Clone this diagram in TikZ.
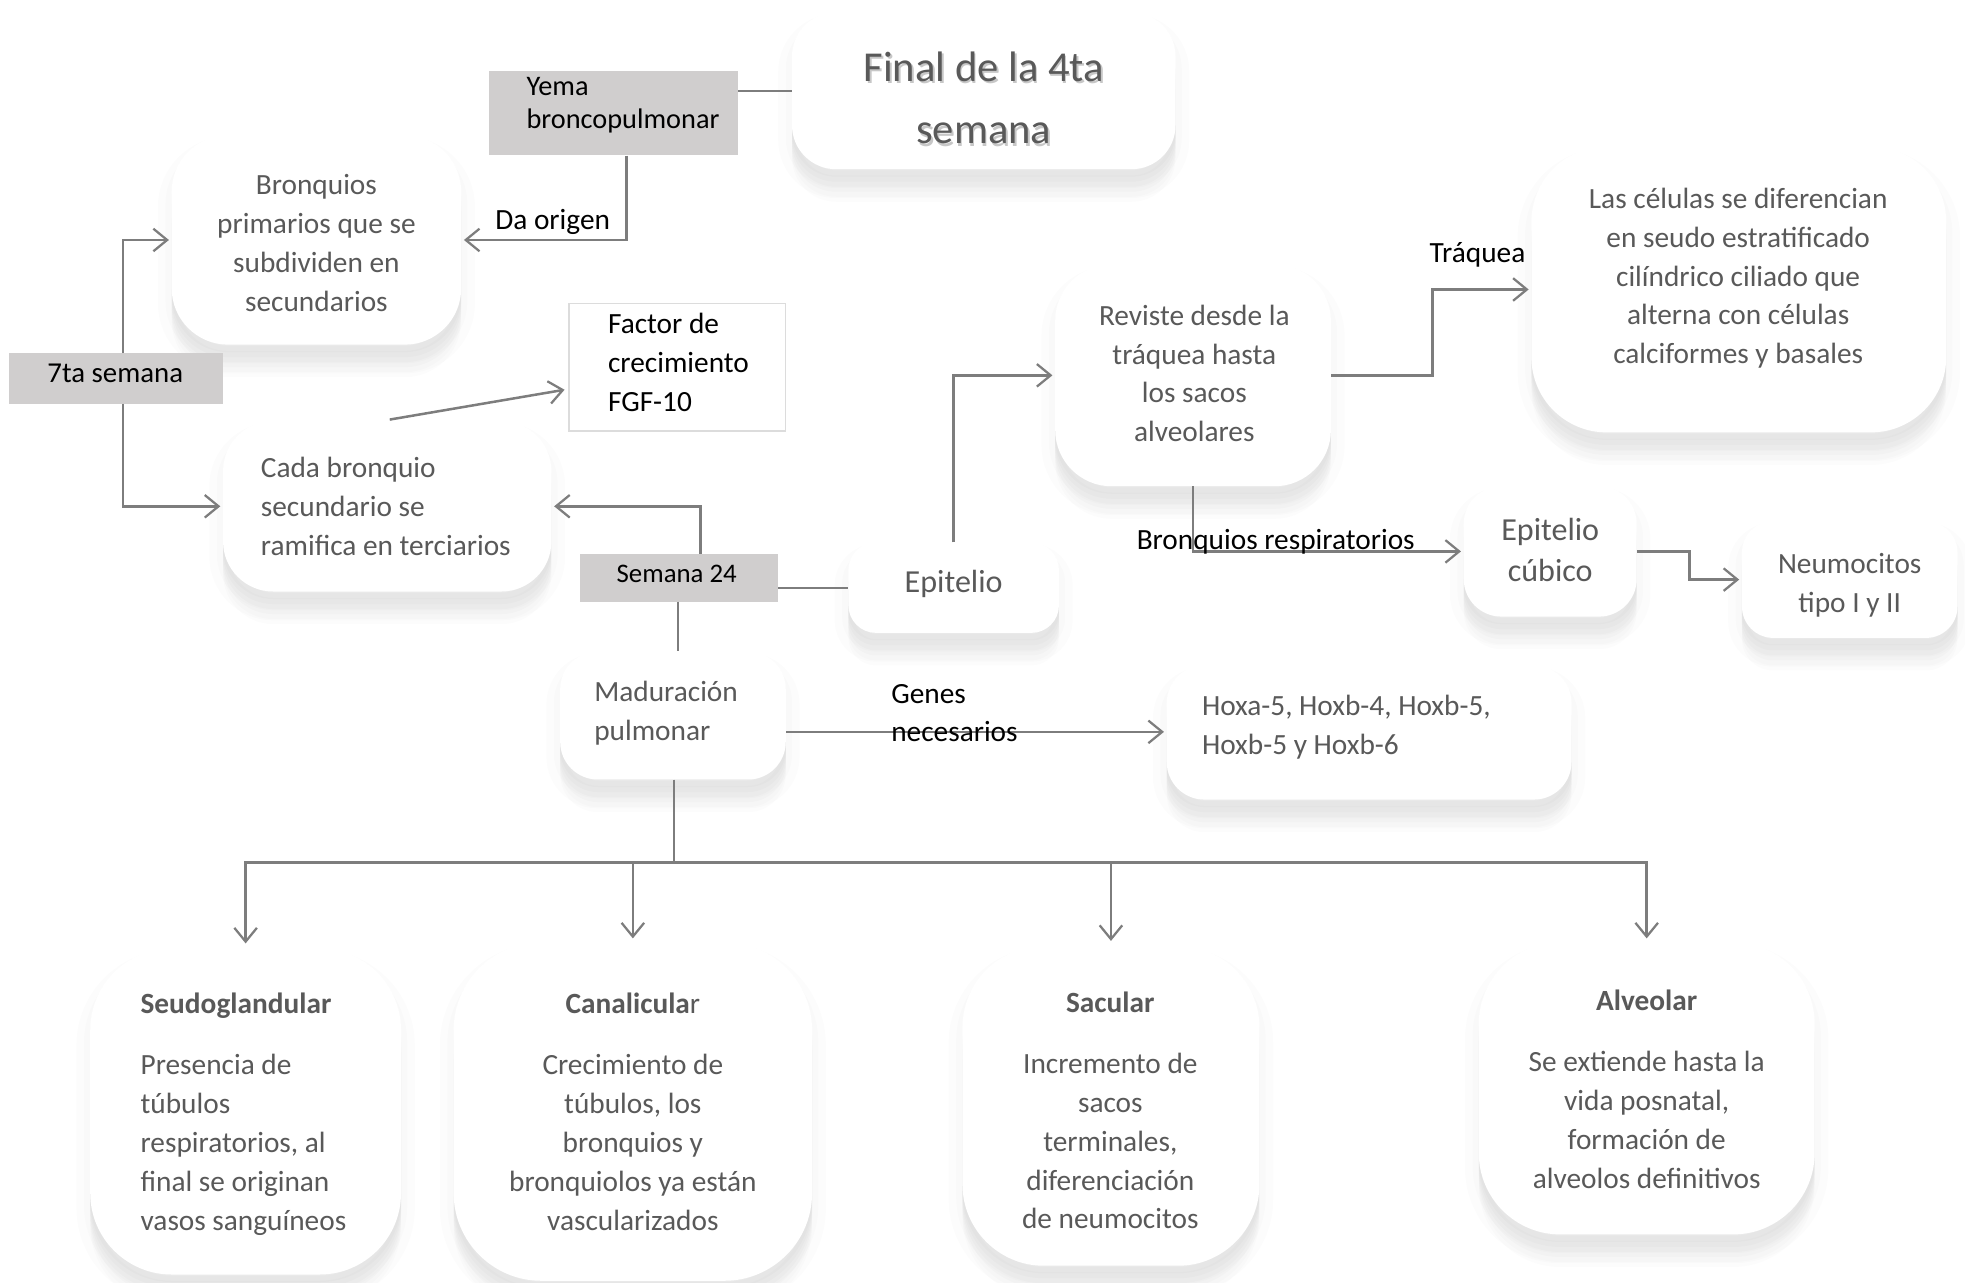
\documentclass[tikz,border=0pt]{standalone}
\usepackage{fontspec}
\setmainfont{Carlito}
\usetikzlibrary{arrows.meta,shadows,calc}

\definecolor{txtgray}{RGB}{89,89,89}
\definecolor{boxgray}{RGB}{208,206,206}
\definecolor{linegray}{RGB}{125,125,125}
\definecolor{framegray}{RGB}{220,220,220}

\begin{document}
\begin{tikzpicture}[x=1pt,y=1pt,
  % soft shadow: stacked translucent copies, fading downwards
  softshadow/.style={
    general shadow={draw=black, draw opacity=0.010, line width=22pt, shadow yshift=-12pt},
    general shadow={draw=black, draw opacity=0.012, line width=10pt, shadow yshift=-10pt},
    general shadow={fill=black, fill opacity=0.012, shadow yshift=-26pt},
    general shadow={fill=black, fill opacity=0.012, shadow yshift=-22pt},
    general shadow={fill=black, fill opacity=0.014, shadow yshift=-18pt},
    general shadow={fill=black, fill opacity=0.014, shadow yshift=-14pt},
    general shadow={fill=black, fill opacity=0.016, shadow yshift=-10pt},
    general shadow={fill=black, fill opacity=0.016, shadow yshift=-6pt}},
  rbox/.style={rectangle, fill=white, inner sep=0pt, softshadow},
  graybox/.style={rectangle, fill=boxgray, inner sep=0pt},
  framebox/.style={rectangle, fill=white, draw=framegray, line width=1pt, inner sep=0pt},
  body/.style={text=txtgray, inner sep=0pt, align=center,
    font=\fontsize{23.4pt}{31pt}\selectfont},
  bodyl/.style={body, align=left},
  lab/.style={text=black, inner sep=0pt, font=\fontsize{23.4pt}{31pt}\selectfont},
  conn/.style={draw=linegray, line width=2pt},
  arr/.style={conn, -{Straight Barb[length=11pt,width=18pt,line width=1.8pt]}, shorten >=2pt},
]
\useasboundingbox (0,0) rectangle (1568,-1023);

% ---------- boxes ----------
\node[rbox, minimum width=306pt, minimum height=125pt, rounded corners=35pt] (final) at (785,-72.5) {};
\node[graybox, minimum width=199pt, minimum height=67pt] (yema) at (489.5,-90.5) {};
\node[rbox, minimum width=231pt, minimum height=167pt, rounded corners=45pt] (bron) at (252.5,-191.5) {};
\node[graybox, minimum width=171pt, minimum height=40pt] (sem7) at (92.5,-302) {};
\node[rbox, minimum width=262pt, minimum height=136pt, rounded corners=40pt] (cada) at (309,-404) {};
\node[framebox, minimum width=173pt, minimum height=102pt] (factor) at (540.5,-293) {};
\node[graybox, minimum width=158pt, minimum height=38pt] (s24) at (542,-461) {};
\node[rbox, minimum width=168pt, minimum height=72pt, rounded corners=22pt] (epi) at (761,-469) {};
\node[rbox, minimum width=220pt, minimum height=177pt, rounded corners=45pt] (rev) at (952,-299.5) {};
\node[rbox, minimum width=331pt, minimum height=228pt, rounded corners=60pt] (cel) at (1387.5,-231) {};
\node[rbox, minimum width=138pt, minimum height=104pt, rounded corners=30pt] (cub) at (1237,-440) {};
\node[rbox, minimum width=172pt, minimum height=93pt, rounded corners=25pt] (neu) at (1476,-462.5) {};
\node[rbox, minimum width=180pt, minimum height=102pt, rounded corners=30pt] (mad) at (537,-571) {};
\node[rbox, minimum width=323pt, minimum height=107pt, rounded corners=30pt] (hox) at (1092.5,-584.5) {};
\node[rbox, minimum width=248pt, minimum height=260pt, rounded corners=65pt] (seudo) at (196,-887) {};
\node[rbox, minimum width=286pt, minimum height=270pt, rounded corners=70pt] (cana) at (505,-887) {};
\node[rbox, minimum width=237pt, minimum height=255pt, rounded corners=65pt] (sacu) at (886.5,-882.5) {};
\node[rbox, minimum width=268pt, minimum height=233pt, rounded corners=65pt] (alve) at (1314,-868.5) {};

% ---------- connectors ----------
\draw[conn] (final.west -| yema.east) -- (final.west);
\draw[arr] ($(yema.south)+(10.5,0)$) |- (bron.east);
\draw[arr] ($(sem7.north)+(5.5,0)$) |- (bron.west);
\draw[arr] ($(sem7.south)+(5.5,0)$) |- (cada.west);
\coordinate (fgfin) at ($(factor.west)+(-3,-18)$);
\draw[arr, shorten >=0pt] ($(cada.north)+(2,1)$) -- (fgfin);
\draw[arr] ($(s24.north)+(17,0)$) |- (cada.east);
\draw[conn] (s24.east |- epi.west) -- (epi.west);
\draw[conn] ($(s24.south)+(-1,0)$) -- ($(s24.south |- mad.north)+(-1,0)$);
\draw[arr] (epi.north) |- (rev.west);
\draw[arr] (rev.east) -- ++(81,0) |- (cel.west);
\draw[arr] (rev.south) |- (cub.west);
\draw[arr] (cub.east) -- ++(42,0) |- (neu.west);
\draw[arr] (mad.east) ++(0,-13) coordinate (madout) -- (madout -| hox.west);
\coordinate (fork) at ($(mad.south)+(1,-66)$);
\draw[conn] ($(mad.south)+(1,0)$) -- (fork);
\draw[arr, shorten >=4pt] (fork) -| (seudo.north);
\draw[arr, shorten >=3pt] (fork) -| (cana.north);
\draw[arr, shorten >=4pt] (fork) -| (sacu.north);
\draw[arr, shorten >=3pt] (fork) -| (alve.north);

% ---------- texts ----------
% heading with a faint text shadow
\node[body, text=black!22, font=\fontsize{34pt}{50pt}\selectfont] (t-final-sh) at (786.5,-80) {Final de la 4ta\\semana};
\node[body, font=\fontsize{34pt}{50pt}\selectfont] (t-final) at (785,-78) {Final de la 4ta\\semana};
\node[lab, font=\fontsize{22.6pt}{27pt}\selectfont, align=left, anchor=west] (t-yema) at (420,-84) {Yema\\broncopulmonar};
\node[body] (t-bron) at (252.5,-194) {Bronquios\\primarios que se\\subdividen en\\secundarios};
\node[lab, font=\fontsize{23pt}{27pt}\selectfont] (t-sem7) at (92,-298) {7ta semana};
\node[bodyl, anchor=west] (t-cada) at (208,-404) {Cada bronquio\\secundario se\\ramifica en terciarios};
\node[lab, align=left, anchor=west] (t-factor) at (485,-289) {Factor de\\crecimiento\\FGF-10};
\node[lab, font=\fontsize{21.4pt}{27pt}\selectfont] (t-s24) at (540,-458) {Semana 24};
\node[body, font=\fontsize{25.6pt}{33pt}\selectfont] (t-epi) at (761,-466) {Epitelio};
\node[body] (t-rev) at (953,-298) {Reviste desde la\\tráquea hasta\\los sacos\\alveolares};
\node[body] (t-cel) at (1387,-222) {Las células se diferencian\\en seudo estratificado\\cilíndrico ciliado que\\alterna con células\\calciformes y basales};
\node[body, font=\fontsize{25.6pt}{33pt}\selectfont] (t-cub) at (1237,-439) {Epitelio\\cúbico};
\node[body] (t-neu) at (1476,-467) {Neumocitos\\tipo I y II};
\node[bodyl, anchor=west] (t-mad) at (474,-569) {Maduración\\pulmonar};
\node[bodyl, anchor=west] (t-hox) at (959,-580) {Hoxa-5, Hoxb-4, Hoxb-5,\\Hoxb-5 y Hoxb-6};
\node[bodyl, anchor=west] (t-seudo) at (112,-889) {\textbf{Seudoglandular}\\[18pt]Presencia de\\túbulos\\respiratorios, al\\final se originan\\vasos sanguíneos};
\node[body] (t-cana) at (505,-887) {\textbf{Canalicula}r\\[18pt]Crecimiento de\\túbulos, los\\bronquios y\\bronquiolos ya están\\vascularizados};
\node[body] (t-sacu) at (886,-886) {\textbf{Sacular}\\[18pt]Incremento de\\sacos\\terminales,\\diferenciación\\de neumocitos};
\node[body] (t-alve) at (1314,-869) {\textbf{Alveolar}\\[18pt]Se extiende hasta la\\vida posnatal,\\formación de\\alveolos definitivos};

% ---------- connector labels ----------
\node[lab] (l-origen) at (441,-177) {Da origen};
\node[lab] (l-traquea) at (1179,-203) {Tráquea};
\node[lab] (l-bresp) at (1018,-432) {Bronquios respiratorios};
\node[lab, align=left, anchor=west] (l-genes) at (711,-569) {Genes\\necesarios};
\end{tikzpicture}
\end{document}
